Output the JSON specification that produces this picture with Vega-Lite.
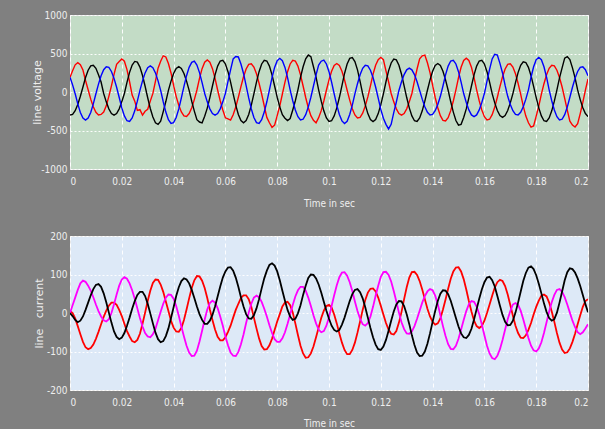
{
"$schema": "https://vega.github.io/schema/vega-lite/v6.json",
"background": "#808080",
"padding": {"left": 30, "top": 9, "right": 16, "bottom": 0},
"bounds": "flush",
"spacing": 67,
"resolve": {"scale": {"color": "independent"}},
"datasets": {"d": [
{"t":0,"vr":190,"vk":-298,"vb":191,"ir":5,"im":0,"ik":0},
{"t":0.001,"vr":277,"vk":-291,"vb":93,"ir":0,"im":20,"ik":-8},
{"t":0.002,"vr":353,"vk":-243,"vb":-23,"ir":-14,"im":40,"ik":-18},
{"t":0.003,"vr":380,"vk":-161,"vb":-155,"ir":-34,"im":60,"ik":-24},
{"t":0.004,"vr":355,"vk":-56,"vb":-266,"ir":-55,"im":77,"ik":-20},
{"t":0.005,"vr":285,"vk":65,"vb":-339,"ir":-75,"im":84,"ik":-9},
{"t":0.006,"vr":150,"vk":188,"vb":-365,"ir":-89,"im":81,"ik":8},
{"t":0.007,"vr":30,"vk":283,"vb":-339,"ir":-94,"im":71,"ik":27},
{"t":0.008,"vr":-93,"vk":339,"vb":-266,"ir":-91,"im":58,"ik":46},
{"t":0.009,"vr":-191,"vk":347,"vb":-155,"ir":-82,"im":41,"ik":62},
{"t":0.01,"vr":-263,"vk":307,"vb":-23,"ir":-67,"im":22,"ik":73},
{"t":0.011,"vr":-298,"vk":223,"vb":102,"ir":-49,"im":5,"ik":75},
{"t":0.012,"vr":-291,"vk":130,"vb":210,"ir":-29,"im":-9,"ik":68},
{"t":0.013,"vr":-260,"vk":-19,"vb":289,"ir":-10,"im":-19,"ik":51},
{"t":0.014,"vr":-180,"vk":-128,"vb":327,"ir":6,"im":-22,"ik":28},
{"t":0.015,"vr":-56,"vk":-219,"vb":320,"ir":19,"im":-16,"ik":1},
{"t":0.016,"vr":80,"vk":-279,"vb":267,"ir":27,"im":0,"ik":-25},
{"t":0.017,"vr":230,"vk":-300,"vb":177,"ir":27,"im":23,"ik":-48},
{"t":0.018,"vr":360,"vk":-279,"vb":62,"ir":21,"im":48,"ik":-62},
{"t":0.019,"vr":395,"vk":-219,"vb":-72,"ir":8,"im":71,"ik":-68},
{"t":0.02,"vr":430,"vk":-128,"vb":-206,"ir":-8,"im":87,"ik":-64},
{"t":0.021,"vr":400,"vk":-19,"vb":-311,"ir":-28,"im":93,"ik":-52},
{"t":0.022,"vr":290,"vk":124,"vb":-373,"ir":-47,"im":89,"ik":-33},
{"t":0.023,"vr":133,"vk":255,"vb":-382,"ir":-61,"im":77,"ik":-12},
{"t":0.024,"vr":-40,"vk":350,"vb":-337,"ir":-73,"im":59,"ik":11},
{"t":0.025,"vr":-119,"vk":397,"vb":-245,"ir":-76,"im":37,"ik":31},
{"t":0.026,"vr":-240,"vk":388,"vb":-119,"ir":-70,"im":12,"ik":47},
{"t":0.027,"vr":-230,"vk":324,"vb":21,"ir":-54,"im":-13,"ik":55},
{"t":0.028,"vr":-300,"vk":214,"vb":145,"ir":-28,"im":-35,"ik":55},
{"t":0.029,"vr":-250,"vk":75,"vb":248,"ir":1,"im":-52,"ik":44},
{"t":0.03,"vr":-225,"vk":-75,"vb":316,"ir":31,"im":-61,"ik":24},
{"t":0.031,"vr":-119,"vk":-214,"vb":340,"ir":58,"im":-63,"ik":-1},
{"t":0.032,"vr":-18,"vk":-324,"vb":316,"ir":78,"im":-55,"ik":-27},
{"t":0.033,"vr":142,"vk":-400,"vb":248,"ir":87,"im":-41,"ik":-51},
{"t":0.034,"vr":310,"vk":-420,"vb":145,"ir":86,"im":-19,"ik":-68},
{"t":0.035,"vr":400,"vk":-380,"vb":21,"ir":74,"im":3,"ik":-76},
{"t":0.036,"vr":470,"vk":-255,"vb":-127,"ir":55,"im":24,"ik":-73},
{"t":0.037,"vr":455,"vk":-124,"vb":-261,"ir":30,"im":40,"ik":-60},
{"t":0.038,"vr":370,"vk":21,"vb":-359,"ir":5,"im":48,"ik":-40},
{"t":0.039,"vr":247,"vk":141,"vb":-407,"ir":-20,"im":47,"ik":-13},
{"t":0.04,"vr":86,"vk":241,"vb":-397,"ir":-38,"im":37,"ik":15},
{"t":0.041,"vr":-60,"vk":307,"vb":-332,"ir":-48,"im":18,"ik":44},
{"t":0.042,"vr":-172,"vk":330,"vb":-220,"ir":-49,"im":-7,"ik":67},
{"t":0.043,"vr":-259,"vk":307,"vb":-77,"ir":-39,"im":-35,"ik":83},
{"t":0.044,"vr":-310,"vk":241,"vb":74,"ir":-18,"im":-61,"ik":90},
{"t":0.045,"vr":-317,"vk":141,"vb":212,"ir":9,"im":-85,"ik":87},
{"t":0.046,"vr":-280,"vk":21,"vb":320,"ir":38,"im":-103,"ik":77},
{"t":0.047,"vr":-204,"vk":-120,"vb":385,"ir":65,"im":-112,"ik":60},
{"t":0.048,"vr":-99,"vk":-248,"vb":400,"ir":85,"im":-111,"ik":39},
{"t":0.049,"vr":26,"vk":-360,"vb":350,"ir":96,"im":-98,"ik":17},
{"t":0.05,"vr":177,"vk":-390,"vb":252,"ir":95,"im":-74,"ik":-3},
{"t":0.051,"vr":303,"vk":-400,"vb":122,"ir":84,"im":-46,"ik":-18},
{"t":0.052,"vr":386,"vk":-316,"vb":-19,"ir":65,"im":-17,"ik":-28},
{"t":0.053,"vr":415,"vk":-209,"vb":-128,"ir":39,"im":9,"ik":-28},
{"t":0.054,"vr":386,"vk":-73,"vb":-219,"ir":9,"im":26,"ik":-20},
{"t":0.055,"vr":303,"vk":78,"vb":-279,"ir":-18,"im":32,"ik":-5},
{"t":0.056,"vr":177,"vk":222,"vb":-300,"ir":-43,"im":27,"ik":17},
{"t":0.057,"vr":26,"vk":336,"vb":-279,"ir":-62,"im":13,"ik":43},
{"t":0.058,"vr":-113,"vk":402,"vb":-219,"ir":-71,"im":-9,"ik":69},
{"t":0.059,"vr":-233,"vk":412,"vb":-128,"ir":-71,"im":-33,"ik":92},
{"t":0.06,"vr":-335,"vk":364,"vb":-19,"ir":-63,"im":-61,"ik":108},
{"t":0.061,"vr":-350,"vk":264,"vb":139,"ir":-49,"im":-84,"ik":118},
{"t":0.062,"vr":-365,"vk":128,"vb":287,"ir":-33,"im":-103,"ik":119},
{"t":0.063,"vr":-295,"vk":-25,"vb":430,"ir":-12,"im":-111,"ik":110},
{"t":0.064,"vr":-196,"vk":-170,"vb":460,"ir":8,"im":-112,"ik":92},
{"t":0.065,"vr":-68,"vk":-292,"vb":455,"ir":24,"im":-101,"ik":68},
{"t":0.066,"vr":69,"vk":-372,"vb":364,"ir":39,"im":-81,"ik":41},
{"t":0.067,"vr":198,"vk":-400,"vb":241,"ir":46,"im":-56,"ik":17},
{"t":0.068,"vr":299,"vk":-372,"vb":84,"ir":46,"im":-26,"ik":-3},
{"t":0.069,"vr":359,"vk":-292,"vb":-77,"ir":36,"im":1,"ik":-14},
{"t":0.07,"vr":367,"vk":-170,"vb":-220,"ir":16,"im":24,"ik":-15},
{"t":0.071,"vr":324,"vk":-25,"vb":-332,"ir":-12,"im":40,"ik":-6},
{"t":0.072,"vr":236,"vk":128,"vb":-397,"ir":-40,"im":45,"ik":12},
{"t":0.073,"vr":114,"vk":264,"vb":-407,"ir":-66,"im":41,"ik":36},
{"t":0.074,"vr":-26,"vk":364,"vb":-359,"ir":-86,"im":29,"ik":64},
{"t":0.075,"vr":-179,"vk":412,"vb":-261,"ir":-95,"im":11,"ik":90},
{"t":0.076,"vr":-330,"vk":402,"vb":-127,"ir":-94,"im":-9,"ik":110},
{"t":0.077,"vr":-400,"vk":336,"vb":28,"ir":-84,"im":-32,"ik":125},
{"t":0.078,"vr":-460,"vk":222,"vb":186,"ir":-67,"im":-52,"ik":129},
{"t":0.079,"vr":-430,"vk":78,"vb":319,"ir":-44,"im":-68,"ik":123},
{"t":0.08,"vr":-306,"vk":-68,"vb":406,"ir":-22,"im":-75,"ik":108},
{"t":0.081,"vr":-179,"vk":-196,"vb":437,"ir":-3,"im":-75,"ik":85},
{"t":0.082,"vr":-26,"vk":-295,"vb":406,"ir":17,"im":-66,"ik":58},
{"t":0.083,"vr":128,"vk":-340,"vb":319,"ir":27,"im":-50,"ik":32},
{"t":0.084,"vr":264,"vk":-370,"vb":186,"ir":29,"im":-28,"ik":8},
{"t":0.085,"vr":364,"vk":-345,"vb":28,"ir":20,"im":-4,"ik":-9},
{"t":0.086,"vr":412,"vk":-233,"vb":-113,"ir":1,"im":21,"ik":-18},
{"t":0.087,"vr":402,"vk":-113,"vb":-233,"ir":-27,"im":43,"ik":-15},
{"t":0.088,"vr":336,"vk":28,"vb":-320,"ir":-57,"im":59,"ik":-1},
{"t":0.089,"vr":222,"vk":192,"vb":-362,"ir":-85,"im":68,"ik":20},
{"t":0.09,"vr":78,"vk":328,"vb":-354,"ir":-105,"im":68,"ik":47},
{"t":0.091,"vr":-71,"vk":430,"vb":-295,"ir":-116,"im":58,"ik":71},
{"t":0.092,"vr":-204,"vk":480,"vb":-196,"ir":-115,"im":40,"ik":91},
{"t":0.093,"vr":-307,"vk":460,"vb":-68,"ir":-105,"im":18,"ik":100},
{"t":0.094,"vr":-368,"vk":328,"vb":78,"ir":-87,"im":-6,"ik":99},
{"t":0.095,"vr":-400,"vk":192,"vb":222,"ir":-63,"im":-27,"ik":90},
{"t":0.096,"vr":-333,"vk":28,"vb":350,"ir":-38,"im":-43,"ik":74},
{"t":0.097,"vr":-242,"vk":-119,"vb":400,"ir":-13,"im":-50,"ik":53},
{"t":0.098,"vr":-117,"vk":-245,"vb":415,"ir":6,"im":-47,"ik":29},
{"t":0.099,"vr":23,"vk":-337,"vb":364,"ir":18,"im":-33,"ik":6},
{"t":0.1,"vr":158,"vk":-382,"vb":264,"ir":21,"im":-11,"ik":-15},
{"t":0.101,"vr":270,"vk":-373,"vb":128,"ir":14,"im":18,"ik":-33},
{"t":0.102,"vr":344,"vk":-311,"vb":-25,"ir":-4,"im":46,"ik":-44},
{"t":0.103,"vr":370,"vk":-206,"vb":-170,"ir":-27,"im":72,"ik":-48},
{"t":0.104,"vr":344,"vk":-72,"vb":-292,"ir":-53,"im":93,"ik":-44},
{"t":0.105,"vr":270,"vk":84,"vb":-375,"ir":-77,"im":105,"ik":-30},
{"t":0.106,"vr":158,"vk":241,"vb":-410,"ir":-96,"im":106,"ik":-12},
{"t":0.107,"vr":23,"vk":364,"vb":-380,"ir":-107,"im":97,"ik":10},
{"t":0.108,"vr":-105,"vk":436,"vb":-292,"ir":-107,"im":80,"ik":31},
{"t":0.109,"vr":-217,"vk":446,"vb":-170,"ir":-96,"im":57,"ik":49},
{"t":0.11,"vr":-298,"vk":394,"vb":-25,"ir":-77,"im":30,"ik":60},
{"t":0.111,"vr":-337,"vk":287,"vb":108,"ir":-51,"im":5,"ik":62},
{"t":0.112,"vr":-329,"vk":139,"vb":223,"ir":-22,"im":-15,"ik":54},
{"t":0.113,"vr":-275,"vk":-24,"vb":307,"ir":8,"im":-29,"ik":38},
{"t":0.114,"vr":-182,"vk":-164,"vb":347,"ir":34,"im":-33,"ik":15},
{"t":0.115,"vr":-64,"vk":-281,"vb":339,"ir":53,"im":-26,"ik":-12},
{"t":0.116,"vr":80,"vk":-358,"vb":283,"ir":63,"im":-9,"ik":-39},
{"t":0.117,"vr":230,"vk":-385,"vb":188,"ir":64,"im":16,"ik":-63},
{"t":0.118,"vr":348,"vk":-358,"vb":65,"ir":56,"im":45,"ik":-82},
{"t":0.119,"vr":420,"vk":-281,"vb":-79,"ir":40,"im":71,"ik":-94},
{"t":0.12,"vr":450,"vk":-164,"vb":-225,"ir":19,"im":94,"ik":-96},
{"t":0.121,"vr":420,"vk":-24,"vb":-340,"ir":-4,"im":106,"ik":-87},
{"t":0.122,"vr":274,"vk":133,"vb":-420,"ir":-26,"im":107,"ik":-70},
{"t":0.123,"vr":133,"vk":274,"vb":-480,"ir":-43,"im":99,"ik":-46},
{"t":0.124,"vr":-19,"vk":377,"vb":-420,"ir":-54,"im":82,"ik":-20},
{"t":0.125,"vr":-128,"vk":427,"vb":-268,"ir":-56,"im":57,"ik":4},
{"t":0.126,"vr":-219,"vk":417,"vb":-130,"ir":-47,"im":30,"ik":22},
{"t":0.127,"vr":-279,"vk":348,"vb":20,"ir":-25,"im":1,"ik":31},
{"t":0.128,"vr":-300,"vk":230,"vb":132,"ir":3,"im":-24,"ik":30},
{"t":0.129,"vr":-279,"vk":80,"vb":226,"ir":36,"im":-42,"ik":18},
{"t":0.13,"vr":-219,"vk":-72,"vb":288,"ir":67,"im":-53,"ik":-3},
{"t":0.131,"vr":-128,"vk":-206,"vb":310,"ir":92,"im":-54,"ik":-29},
{"t":0.132,"vr":-19,"vk":-311,"vb":288,"ir":106,"im":-48,"ik":-58},
{"t":0.133,"vr":145,"vk":-373,"vb":226,"ir":107,"im":-34,"ik":-83},
{"t":0.134,"vr":299,"vk":-382,"vb":132,"ir":99,"im":-15,"ik":-103},
{"t":0.135,"vr":430,"vk":-337,"vb":20,"ir":83,"im":6,"ik":-112},
{"t":0.136,"vr":470,"vk":-245,"vb":-93,"ir":61,"im":27,"ik":-111},
{"t":0.137,"vr":480,"vk":-119,"vb":-191,"ir":36,"im":44,"ik":-100},
{"t":0.138,"vr":380,"vk":23,"vb":-263,"ir":11,"im":56,"ik":-80},
{"t":0.139,"vr":252,"vk":158,"vb":-298,"ir":-9,"im":62,"ik":-53},
{"t":0.14,"vr":88,"vk":270,"vb":-291,"ir":-23,"im":59,"ik":-23},
{"t":0.141,"vr":-71,"vk":344,"vb":-243,"ir":-30,"im":45,"ik":5},
{"t":0.142,"vr":-204,"vk":370,"vb":-161,"ir":-27,"im":23,"ik":31},
{"t":0.143,"vr":-307,"vk":344,"vb":-56,"ir":-14,"im":-6,"ik":50},
{"t":0.144,"vr":-368,"vk":270,"vb":78,"ir":9,"im":-34,"ik":59},
{"t":0.145,"vr":-377,"vk":158,"vb":222,"ir":35,"im":-60,"ik":58},
{"t":0.146,"vr":-333,"vk":23,"vb":336,"ir":63,"im":-81,"ik":49},
{"t":0.147,"vr":-242,"vk":-127,"vb":402,"ir":89,"im":-93,"ik":32},
{"t":0.148,"vr":-117,"vk":-261,"vb":412,"ir":108,"im":-94,"ik":10},
{"t":0.149,"vr":28,"vk":-370,"vb":364,"ir":118,"im":-85,"ik":-13},
{"t":0.15,"vr":187,"vk":-430,"vb":264,"ir":119,"im":-67,"ik":-35},
{"t":0.151,"vr":321,"vk":-420,"vb":128,"ir":108,"im":-43,"ik":-53},
{"t":0.152,"vr":409,"vk":-332,"vb":-20,"ir":88,"im":-18,"ik":-63},
{"t":0.153,"vr":440,"vk":-220,"vb":-136,"ir":61,"im":5,"ik":-65},
{"t":0.154,"vr":409,"vk":-77,"vb":-233,"ir":31,"im":23,"ik":-57},
{"t":0.155,"vr":321,"vk":78,"vb":-298,"ir":4,"im":31,"ik":-41},
{"t":0.156,"vr":187,"vk":222,"vb":-320,"ir":-20,"im":29,"ik":-17},
{"t":0.157,"vr":28,"vk":336,"vb":-298,"ir":-34,"im":17,"ik":10},
{"t":0.158,"vr":-113,"vk":402,"vb":-233,"ir":-39,"im":-3,"ik":37},
{"t":0.159,"vr":-233,"vk":412,"vb":-136,"ir":-34,"im":-30,"ik":61},
{"t":0.16,"vr":-320,"vk":364,"vb":-20,"ir":-20,"im":-58,"ik":80},
{"t":0.161,"vr":-362,"vk":264,"vb":142,"ir":0,"im":-85,"ik":92},
{"t":0.162,"vr":-354,"vk":128,"vb":293,"ir":22,"im":-105,"ik":94},
{"t":0.163,"vr":-295,"vk":-21,"vb":430,"ir":45,"im":-117,"ik":85},
{"t":0.164,"vr":-196,"vk":-141,"vb":490,"ir":66,"im":-120,"ik":69},
{"t":0.165,"vr":-68,"vk":-241,"vb":480,"ir":80,"im":-111,"ik":44},
{"t":0.166,"vr":69,"vk":-307,"vb":372,"ir":86,"im":-94,"ik":19},
{"t":0.167,"vr":198,"vk":-330,"vb":247,"ir":83,"im":-70,"ik":-5},
{"t":0.168,"vr":299,"vk":-307,"vb":86,"ir":70,"im":-43,"ik":-23},
{"t":0.169,"vr":359,"vk":-241,"vb":-56,"ir":48,"im":-16,"ik":-32},
{"t":0.17,"vr":367,"vk":-141,"vb":-161,"ir":21,"im":5,"ik":-31},
{"t":0.171,"vr":324,"vk":-21,"vb":-243,"ir":-7,"im":22,"ik":-20},
{"t":0.172,"vr":236,"vk":122,"vb":-291,"ir":-33,"im":26,"ik":1},
{"t":0.173,"vr":114,"vk":252,"vb":-298,"ir":-52,"im":21,"ik":27},
{"t":0.174,"vr":-27,"vk":346,"vb":-263,"ir":-64,"im":6,"ik":55},
{"t":0.175,"vr":-183,"vk":392,"vb":-191,"ir":-65,"im":-16,"ik":83},
{"t":0.176,"vr":-313,"vk":383,"vb":-93,"ir":-58,"im":-41,"ik":104},
{"t":0.177,"vr":-400,"vk":320,"vb":28,"ir":-44,"im":-65,"ik":118},
{"t":0.178,"vr":-455,"vk":212,"vb":192,"ir":-26,"im":-85,"ik":121},
{"t":0.179,"vr":-440,"vk":74,"vb":328,"ir":-4,"im":-97,"ik":114},
{"t":0.18,"vr":-313,"vk":-72,"vb":419,"ir":16,"im":-100,"ik":98},
{"t":0.181,"vr":-183,"vk":-206,"vb":450,"ir":32,"im":-92,"ik":76},
{"t":0.182,"vr":-27,"vk":-311,"vb":419,"ir":45,"im":-76,"ik":51},
{"t":0.183,"vr":108,"vk":-373,"vb":328,"ir":48,"im":-52,"ik":25},
{"t":0.184,"vr":223,"vk":-382,"vb":192,"ir":43,"im":-24,"ik":3},
{"t":0.185,"vr":307,"vk":-337,"vb":28,"ir":27,"im":4,"ik":-13},
{"t":0.186,"vr":347,"vk":-245,"vb":-113,"ir":4,"im":28,"ik":-20},
{"t":0.187,"vr":339,"vk":-119,"vb":-233,"ir":-23,"im":47,"ik":-16},
{"t":0.188,"vr":283,"vk":27,"vb":-320,"ir":-52,"im":60,"ik":1},
{"t":0.189,"vr":188,"vk":183,"vb":-362,"ir":-77,"im":62,"ik":27},
{"t":0.19,"vr":65,"vk":313,"vb":-354,"ir":-95,"im":55,"ik":56},
{"t":0.191,"vr":-82,"vk":440,"vb":-295,"ir":-104,"im":41,"ik":85},
{"t":0.192,"vr":-236,"vk":460,"vb":-196,"ir":-102,"im":22,"ik":106},
{"t":0.193,"vr":-380,"vk":420,"vb":-68,"ir":-92,"im":1,"ik":116},
{"t":0.194,"vr":-430,"vk":313,"vb":62,"ir":-75,"im":-20,"ik":114},
{"t":0.195,"vr":-455,"vk":183,"vb":177,"ir":-54,"im":-37,"ik":105},
{"t":0.196,"vr":-410,"vk":27,"vb":267,"ir":-29,"im":-50,"ik":90},
{"t":0.197,"vr":-280,"vk":-99,"vb":320,"ir":-6,"im":-55,"ik":70},
{"t":0.198,"vr":-136,"vk":-204,"vb":327,"ir":16,"im":-50,"ik":47},
{"t":0.199,"vr":24,"vk":-280,"vb":289,"ir":31,"im":-40,"ik":23},
{"t":0.2,"vr":170,"vk":-320,"vb":210,"ir":36,"im":-29,"ik":2}
]},
"config": {
  "font": "DejaVu Sans Condensed, DejaVu Sans, sans-serif",
  "axis": {
    "labelColor": "#eeeeee", "titleColor": "#eeeeee",
    "labelFont": "DejaVu Sans Condensed, DejaVu Sans, sans-serif", "titleFont": "DejaVu Sans Condensed, DejaVu Sans, sans-serif",
    "labelFontSize": 10, "titleFontSize": 10, "titleFontWeight": "normal",
    "domain": false, "tickSize": 0, "labelExpr": "'' + datum.value",
    "gridColor": "#ffffff", "gridOpacity": 0.95, "gridWidth": 1
  },
  "axisX": {"gridDash": [4, 3], "labelPadding": 7},
  "axisY": {"gridDash": [2, 2], "labelPadding": 3},
  "view": {"stroke": "#e8e8e8", "strokeWidth": 1}
},
"vconcat": [
  {
    "width": 518, "height": 154,
    "data": {"name": "d"},
    "transform": [{"fold": ["vr", "vk", "vb"], "as": ["s", "v"]}],
    "mark": {"type": "line", "strokeWidth": 1.4, "clip": true},
    "encoding": {
      "x": {"field": "t", "type": "quantitative", "scale": {"domain": [0, 0.2], "nice": false},
            "axis": {"values": [0, 0.02, 0.04, 0.06, 0.08, 0.1, 0.12, 0.14, 0.16, 0.18, 0.2],
                     "title": "Time in sec", "titleY": 29, "titleBaseline": "top"}},
      "y": {"field": "v", "type": "quantitative", "scale": {"domain": [-1000, 1000], "nice": false},
            "axis": {"values": [-1000, -500, 0, 500, 1000], "title": "line voltage",
                     "titleFont": "DejaVu Sans, sans-serif", "titleFontSize": 11,
                     "titleX": -33, "titleY": 77, "titleAngle": -90, "titleAlign": "center", "titleBaseline": "middle"}},
      "color": {"field": "s", "type": "nominal", "scale": {"domain": ["vr", "vk", "vb"], "range": ["#ff0000", "#000000", "#0000ff"]}, "legend": null}
    },
    "view": {"fill": "#c3dcc6"}
  },
  {
    "width": 518, "height": 154,
    "data": {"name": "d"},
    "transform": [{"fold": ["ir", "im", "ik"], "as": ["s", "v"]}],
    "mark": {"type": "line", "strokeWidth": 1.8, "clip": true},
    "encoding": {
      "x": {"field": "t", "type": "quantitative", "scale": {"domain": [0, 0.2], "nice": false},
            "axis": {"values": [0, 0.02, 0.04, 0.06, 0.08, 0.1, 0.12, 0.14, 0.16, 0.18, 0.2],
                     "title": "Time in sec", "titleY": 28, "titleBaseline": "top"}},
      "y": {"field": "v", "type": "quantitative", "scale": {"domain": [-200, 200], "nice": false},
            "axis": {"values": [-200, -100, 0, 100, 200], "title": "line\u00a0\u00a0\u00a0current",
                     "titleFont": "DejaVu Sans, sans-serif", "titleFontSize": 11,
                     "titleX": -31, "titleY": 77, "titleAngle": -90, "titleAlign": "center", "titleBaseline": "middle"}},
      "color": {"field": "s", "type": "nominal", "scale": {"domain": ["ir", "im", "ik"], "range": ["#ff0000", "#ff00ff", "#000000"]}, "legend": null}
    },
    "view": {"fill": "#dde9f7"}
  }
]
}
